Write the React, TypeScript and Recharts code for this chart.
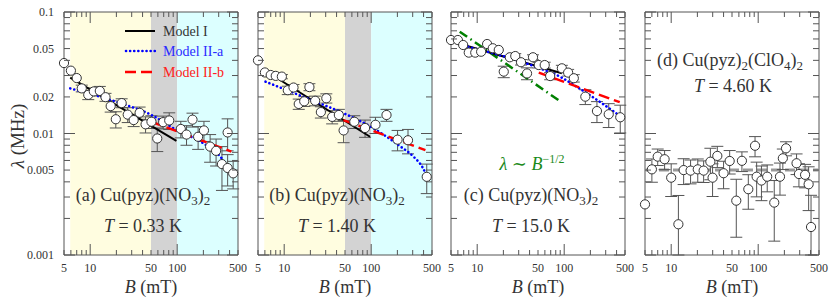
import React from 'react';
import {
  ComposedChart,
  Scatter,
  Line,
  XAxis,
  YAxis,
  ErrorBar,
  ReferenceArea,
  ReferenceLine,
} from 'recharts';

// ---- data (B in mT, lambda in MHz) ----

// (a) Cu(pyz)(NO3)2, T = 0.33 K
const fieldA = [5, 6, 7, 8, 9.5, 11, 12.9, 15, 17.2, 19.7, 23, 27, 31.6, 37, 43.3, 50.6, 59, 69, 81, 110, 128, 150, 174, 203, 239, 280, 327, 380, 380, 440];
const lambdaA = [0.038, 0.0329, 0.0286, 0.0235, 0.0208, 0.0222, 0.0224, 0.0199, 0.0168, 0.0131, 0.0178, 0.0143, 0.0129, 0.0148, 0.0119, 0.0125, 0.0091, 0.0124, 0.0128, 0.0109, 0.0098, 0.013, 0.0094, 0.0106, 0.0078, 0.0072, 0.0056, 0.0102, 0.0052, 0.0047];
const errA = [0, 0, 0, 0.0015, 0.0018, 0.0015, 0.002, 0.0015, 0.0018, 0.002, 0.0015, 0.002, 0.0015, 0.0017, 0.0018, 0.0015, 0.002, 0.0015, 0.002, 0.0017, 0.0018, 0.0017, 0.002, 0.002, 0.002, 0.0018, 0.0022, 0.003, 0.0015, 0.0012];
const modelIA_B = [5.9, 98];
const modelIA_L = [0.0288, 0.0087];
const modelIIaA_B = [5.9, 20, 50.6, 98, 200, 310, 370, 440];
const modelIIaA_L = [0.0235, 0.0182, 0.0142, 0.0107, 0.0083, 0.0065, 0.0055, 0.0045];
const modelIIbA_B = [50.6, 420];
const modelIIbA_L = [0.0125, 0.0071];

// (b) Cu(pyz)(NO3)2, T = 1.40 K
const fieldB = [5, 6, 7, 8, 9.4, 11, 12.8, 14.7, 17, 19.5, 22.7, 26.4, 30.5, 35.6, 42.5, 48.2, 64, 85, 112, 150, 201, 265, 435];
const lambdaB = [0.04, 0.0318, 0.0303, 0.0298, 0.0294, 0.0227, 0.0239, 0.0175, 0.0184, 0.0241, 0.0186, 0.015, 0.0195, 0.0137, 0.0142, 0.0106, 0.0125, 0.0111, 0.0118, 0.0142, 0.0089, 0.0088, 0.0044];
const errB = [0, 0, 0, 0, 0.0012, 0.0018, 0.0014, 0.0017, 0.0017, 0.0016, 0.0017, 0.0016, 0.0017, 0.0017, 0.0016, 0.0022, 0.0015, 0.0018, 0.0018, 0.0016, 0.0017, 0.002, 0.0012];
const modelIB_B = [5.9, 97];
const modelIB_L = [0.0333, 0.0094];
const modelIIaB_B = [6.1, 20, 48, 98, 218, 310, 387, 434];
const modelIIaB_L = [0.0267, 0.019, 0.0147, 0.0114, 0.0078, 0.0064, 0.0053, 0.0045];
const modelIIbB_B = [48, 420];
const modelIIbB_L = [0.0129, 0.0073];

// (c) Cu(pyz)(NO3)2, T = 15.0 K
const fieldC = [5, 6, 6.9, 8, 9.5, 11.1, 13, 15.1, 17.7, 20.2, 23.7, 27.4, 31.9, 37.4, 43.8, 51, 59.7, 69, 94, 111, 129, 175, 238, 325, 441];
const lambdaC = [0.0588, 0.0588, 0.0535, 0.0463, 0.0463, 0.0471, 0.0545, 0.0503, 0.0487, 0.0323, 0.0424, 0.0434, 0.0386, 0.0312, 0.0424, 0.0366, 0.0366, 0.0297, 0.0344, 0.0317, 0.0285, 0.0201, 0.0153, 0.0144, 0.0136];
const errC = [0, 0, 0, 0, 0, 0, 0, 0, 0, 0.0035, 0, 0.002, 0.002, 0.0035, 0.002, 0.002, 0.002, 0.002, 0.002, 0.002, 0.002, 0.0028, 0.003, 0.0032, 0.0035];
const sqrtLawC_B = [6.3, 91];
const sqrtLawC_L = [0.0689, 0.0183];
const modelIC_B = [6.4, 94];
const modelIC_L = [0.0545, 0.0313];
const modelIIaC_B = [6.4, 48, 94, 129, 238, 460];
const modelIIaC_L = [0.0535, 0.0352, 0.0288, 0.0251, 0.0189, 0.0136];
const modelIIbC_B = [51, 435];
const modelIIbC_L = [0.0317, 0.0181];

// (d) Cu(pyz)2(ClO4)2, T = 4.60 K
const fieldD = [5, 6, 7, 8.4, 10, 12.1, 13.9, 16.7, 20.2, 23.6, 28.2, 29.9, 33.9, 40, 47, 56, 65, 77, 92, 96, 109, 127, 153, 178, 192, 209, 276, 294, 346, 380, 405];
const lambdaD = [0.00261, 0.00507, 0.00645, 0.00614, 0.00433, 0.00179, 0.005, 0.00495, 0.00507, 0.00495, 0.00586, 0.00433, 0.00654, 0.00471, 0.00594, 0.0028, 0.00596, 0.00348, 0.00793, 0.00441, 0.0041, 0.00441, 0.0027, 0.00441, 0.00625, 0.00755, 0.00569, 0.00464, 0.00457, 0.00382, 0.0017];
const errD: (number | number[])[] = [0, 0.0011, 0.001, 0.0011, 0.0013, [0.00079, 0.0013], 0.0012, 0.0011, 0.0011, 0.001, 0.0017, 0.0013, 0.0013, 0.0012, 0.0013, 0.0014, 0.0011, 0.0011, 0.0015, 0.0014, 0.0013, 0.0011, 0.0014, 0.0013, 0.0012, 0.001, 0.0011, 0.001, 0.001, 0.0015, [0.0007, 0.0014]];
const meanD = 0.005;

// axis ticks
const xTicks = [5, 6, 7, 8, 9, 10, 20, 30, 40, 50, 60, 70, 80, 90, 100, 200, 300, 400, 500];
const xTickLabels = [5, 10, 50, 100, 500];
const yTicks = [0.001, 0.002, 0.003, 0.004, 0.005, 0.006, 0.007, 0.008, 0.009, 0.01, 0.02, 0.03, 0.04, 0.05, 0.06, 0.07, 0.08, 0.09, 0.1];
const yTickLabels = [0.001, 0.005, 0.01, 0.02, 0.05, 0.1];

// ---- layout / style ----
const SERIF = '"Liberation Serif", "DejaVu Serif", serif';
const AXIS = '#555';
const TXT = '#333';
const PLOT_TOP = 12;
const PLOT_H = 243;
const PLOT_W = 174;
const CHART_H = 300;

const YELLOW = '#fffde0';
const GRAY = '#d3d3d3';
const CYAN = '#dcffff';

const pts = (b: number[], l: number[], e?: any[]) =>
  b.map((x, i) => ({ x, y: l[i], err: e ? e[i] : 0 }));

function XTick(props: any) {
  const { x, y, payload } = props;
  const v = payload.value;
  const len = v === 10 || v === 100 ? 11 : 5;
  return (
    <g>
      <line x1={x} x2={x} y1={y} y2={y - len} stroke={AXIS} />
      <line x1={x} x2={x} y1={y - PLOT_H} y2={y - PLOT_H + len} stroke={AXIS} />
      {xTickLabels.includes(v) && (
        <text x={x} y={y + 17} textAnchor="middle" fontSize={12} fill={TXT} fontFamily={SERIF}>
          {v}
        </text>
      )}
    </g>
  );
}

function YTick(props: any) {
  const { x, y, payload, showLabel } = props;
  const v = payload.value;
  const len = v === 0.001 || v === 0.01 || v === 0.1 ? 11 : 6;
  return (
    <g>
      <line x1={x} x2={x + len} y1={y} y2={y} stroke={AXIS} />
      <line x1={x + PLOT_W} x2={x + PLOT_W - len} y1={y} y2={y} stroke={AXIS} />
      {showLabel && yTickLabels.includes(v) && (
        <text x={x - 10} y={y + 4} textAnchor="end" fontSize={12} fill={TXT} fontFamily={SERIF}>
          {v}
        </text>
      )}
    </g>
  );
}

const Circle = (p: any) => (
  <circle cx={p.cx} cy={p.cy} r={4.6} fill="#fff" stroke="#333" strokeWidth={1} />
);

interface Curve {
  data: { x: number; y: number }[];
  color: string;
  dash?: string;
  width: number;
  type: 'linear' | 'monotone';
  cap?: 'round' | 'butt';
}

interface PanelProps {
  left: number;
  ml: number;
  points: { x: number; y: number; err: any }[];
  curves: Curve[];
  shaded?: boolean;
  mean?: number;
  showY?: boolean;
}

// axes get 1px of room so recharts renders them; ticks are drawn inward by hand
function Panel({ left, ml, points, curves, shaded, mean, showY }: PanelProps) {
  const mr = 12;
  return (
    <div style={{ position: 'absolute', left: left - ml, top: 0 }}>
      <ComposedChart
        width={ml + PLOT_W + mr}
        height={CHART_H}
        margin={{ top: PLOT_TOP, right: mr, bottom: CHART_H - PLOT_TOP - PLOT_H - 1, left: ml - 1 }}
      >
        {shaded && <ReferenceArea x1={5.9} x2={50} y1={0.001} y2={0.1} fill={YELLOW} fillOpacity={1} stroke="none" />}
        {shaded && <ReferenceArea x1={50} x2={100} y1={0.001} y2={0.1} fill={GRAY} fillOpacity={1} stroke="none" />}
        {shaded && <ReferenceArea x1={100} x2={500} y1={0.001} y2={0.1} fill={CYAN} fillOpacity={1} stroke="none" />}
        <XAxis
          dataKey="x"
          type="number"
          scale="log"
          domain={[5, 500]}
          ticks={xTicks}
          interval={0}
          height={1}
          tickSize={0}
          tickMargin={0}
          tickLine={false}
          axisLine={false}
          tick={(p: any) => <XTick {...p} />}
        />
        <YAxis
          dataKey="y"
          type="number"
          scale="log"
          domain={[0.001, 0.1]}
          ticks={yTicks}
          interval={0}
          width={1}
          tickSize={0}
          tickMargin={0}
          tickLine={false}
          axisLine={false}
          tick={(p: any) => <YTick {...p} showLabel={showY} />}
        />
        {mean !== undefined && (
          <ReferenceLine y={mean} stroke="#999" strokeWidth={3} strokeDasharray="10 4" />
        )}
        <Scatter data={points} shape={Circle} isAnimationActive={false}>
          <ErrorBar dataKey="err" direction="y" width={6} stroke="#555" strokeWidth={1} />
        </Scatter>
        {curves.map((c, i) => (
          <Line
            key={i}
            data={c.data}
            dataKey="y"
            type={c.type}
            stroke={c.color}
            strokeWidth={c.width}
            strokeDasharray={c.dash}
            strokeLinecap={c.cap || 'butt'}
            dot={false}
            activeDot={false}
            isAnimationActive={false}
          />
        ))}
        <ReferenceArea x1={5} x2={500} y1={0.001} y2={0.1} fill="none" stroke={AXIS} strokeWidth={1} />
      </ComposedChart>
    </div>
  );
}

const DOT = '0.1 4';
const DASH = '11 5';

const modelI = (b: number[], l: number[]): Curve => ({ data: pts(b, l), color: '#000', width: 2, type: 'linear' });
const modelIIa = (b: number[], l: number[]): Curve => ({ data: pts(b, l), color: '#0000ff', width: 2.6, dash: DOT, type: 'monotone', cap: 'round' });
const modelIIb = (b: number[], l: number[]): Curve => ({ data: pts(b, l), color: '#ff0000', width: 2.5, dash: DASH, type: 'linear' });

const Sub = ({ children }: { children: React.ReactNode }) => (
  <tspan dy={4} fontSize={13}>{children}</tspan>
);

export default function App() {
  const panelLefts = [64, 258, 451, 645];
  return (
    <div style={{ position: 'absolute', left: 0, top: 0, width: 830, height: 300, background: '#fff' }}>
      <Panel
        left={panelLefts[0]}
        ml={64}
        shaded
        showY
        points={pts(fieldA, lambdaA, errA)}
        curves={[
          modelI(modelIA_B, modelIA_L),
          modelIIa(modelIIaA_B, modelIIaA_L),
          modelIIb(modelIIbA_B, modelIIbA_L),
        ]}
      />
      <Panel
        left={panelLefts[1]}
        ml={16}
        shaded
        points={pts(fieldB, lambdaB, errB)}
        curves={[
          modelI(modelIB_B, modelIB_L),
          modelIIa(modelIIaB_B, modelIIaB_L),
          modelIIb(modelIIbB_B, modelIIbB_L),
        ]}
      />
      <Panel
        left={panelLefts[2]}
        ml={16}
        points={pts(fieldC, lambdaC, errC)}
        curves={[
          { data: pts(sqrtLawC_B, sqrtLawC_L), color: '#008000', width: 2.5, dash: '9 4 1.5 4', type: 'linear' },
          modelI(modelIC_B, modelIC_L),
          modelIIa(modelIIaC_B, modelIIaC_L),
          modelIIb(modelIIbC_B, modelIIbC_L),
        ]}
      />
      <Panel left={panelLefts[3]} ml={16} points={pts(fieldD, lambdaD, errD)} curves={[]} mean={meanD} />

      <svg
        width={830}
        height={300}
        style={{ position: 'absolute', left: 0, top: 0, pointerEvents: 'none' }}
        fontFamily={SERIF}
      >
        {/* legend */}
        <line x1={125} x2={155} y1={31} y2={31} stroke="#000" strokeWidth={2} />
        <text x={163} y={36} fontSize={14} fill={TXT}>Model I</text>
        <line x1={126} x2={155} y1={51} y2={51} stroke="#0000ff" strokeWidth={2.6} strokeDasharray={DOT} strokeLinecap="round" />
        <text x={163} y={56} fontSize={14} fill="#2a2aff">Model II-a</text>
        <line x1={125} x2={155} y1={72} y2={72} stroke="#ff0000" strokeWidth={2.5} strokeDasharray={DASH} />
        <text x={163} y={77} fontSize={14} fill="#ff2020">Model II-b</text>

        {/* y axis title */}
        <text transform="translate(24,136) rotate(-90)" textAnchor="middle" fontSize={19} fill={TXT}>
          <tspan fontStyle="italic">λ</tspan> (MHz)
        </text>

        {/* x axis titles */}
        {panelLefts.map((l) => (
          <text key={l} x={l + PLOT_W / 2} y={293} textAnchor="middle" fontSize={18} fill={TXT}>
            <tspan fontStyle="italic">B</tspan> (mT)
          </text>
        ))}

        {/* panel annotations */}
        {[
          { cx: 143, tag: '(a)', t: '0.33' },
          { cx: 337, tag: '(b)', t: '1.40' },
          { cx: 531, tag: '(c)', t: '15.0' },
        ].map((a) => (
          <g key={a.tag}>
            <text x={a.cx} y={201} textAnchor="middle" fontSize={18} fill={TXT}>
              {a.tag} Cu(pyz)(NO<Sub>3</Sub>
              <tspan dy={-4}>)</tspan>
              <Sub>2</Sub>
            </text>
            <text x={a.cx} y={232} textAnchor="middle" fontSize={18} fill={TXT}>
              <tspan fontStyle="italic">T</tspan> = {a.t} K
            </text>
          </g>
        ))}
        <text x={532} y={170} textAnchor="middle" fontSize={18} fill="#1a8a1a">
          <tspan fontStyle="italic">λ</tspan> ∼ <tspan fontStyle="italic">B</tspan>
          <tspan dy={-7} fontSize={12}>−1/2</tspan>
        </text>
        <text x={730} y={66} textAnchor="middle" fontSize={18} fill={TXT}>
          (d) Cu(pyz)<Sub>2</Sub>
          <tspan dy={-4}>(ClO</tspan>
          <Sub>4</Sub>
          <tspan dy={-4}>)</tspan>
          <Sub>2</Sub>
        </text>
        <text x={733} y={92} textAnchor="middle" fontSize={18} fill={TXT}>
          <tspan fontStyle="italic">T</tspan> = 4.60 K
        </text>
      </svg>
    </div>
  );
}
